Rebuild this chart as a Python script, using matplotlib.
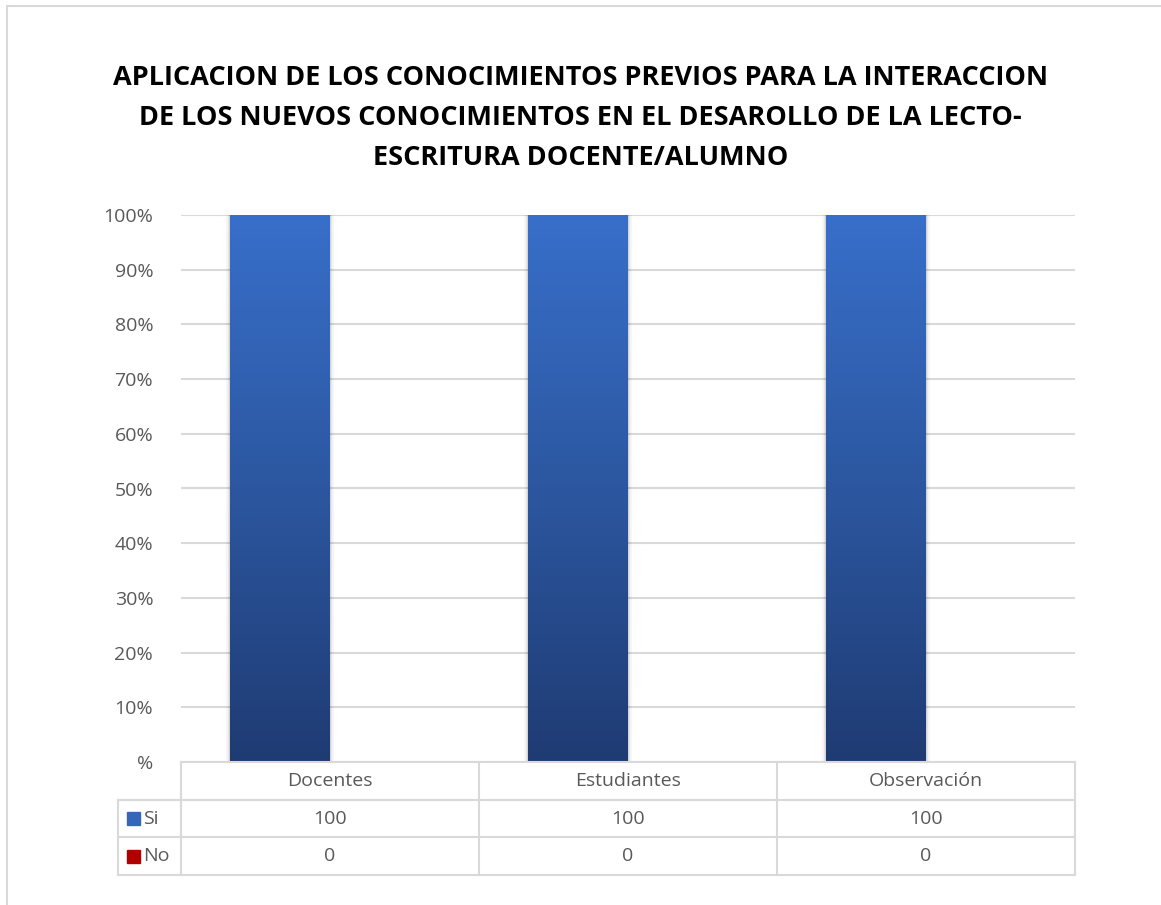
import matplotlib.pyplot as plt
import numpy as np
from matplotlib.colors import LinearSegmentedColormap
from matplotlib.patches import Rectangle

categories = ["Docentes", "Estudiantes", "Observación"]
si_values = [100, 100, 100]
no_values = [0, 0, 0]
series_names = ["Si", "No"]
title = ("APLICACION DE LOS CONOCIMIENTOS PREVIOS PARA LA INTERACCION\n"
         "DE LOS NUEVOS CONOCIMIENTOS EN EL DESAROLLO DE LA LECTO-\n"
         "ESCRITURA DOCENTE/ALUMNO")
ytick_labels = ["%", "10%", "20%", "30%", "40%", "50%", "60%", "70%", "80%", "90%", "100%"]


def main():
    plt.rcParams.update({"font.family": ["Open Sans", "DejaVu Sans"]})
    W, H = 1161, 905
    fig = plt.figure(figsize=(W / 100, H / 100), dpi=100)
    grey_text = "#595959"
    line_c = "#d9d9d9"

    # outer chart frame (only left/top visible)
    fig.patches.append(Rectangle((7 / W, -0.1), 1.2, 1 - 6 / H + 0.1, transform=fig.transFigure,
                                 fill=False, edgecolor="#d9d9d9", linewidth=1.5))

    fig.text(0.5, 1 - 118 / H, title, ha="center", va="center", fontsize=19.5,
             fontweight="bold", color="#000000", linespacing=1.7)

    left, right, top, bottom = 181, 1075, 215, 762
    ax = fig.add_axes([left / W, 1 - bottom / H, (right - left) / W, (bottom - top) / H])
    x = np.arange(len(categories))
    bw = 100 / 298
    bars_si = ax.bar(x - bw / 2, si_values, width=bw, color="#2f5ea8", zorder=3)
    ax.bar(x + bw / 2, no_values, width=bw, color="#c00000", zorder=3)

    grad = LinearSegmentedColormap.from_list("g", ["#1f3b73", "#2c57a0", "#386fca"])
    g = np.linspace(0, 1, 256).reshape(-1, 1)
    for p in bars_si:
        x0, y0 = p.get_x(), p.get_y()
        # soft shadow
        for k, a in [(0.012, 0.04), (0.007, 0.06), (0.003, 0.08)]:
            ax.add_patch(Rectangle((x0 - k, y0), p.get_width() + 2 * k, p.get_height(),
                                   color="#000000", alpha=a, zorder=2, linewidth=0))
        im = ax.imshow(g, cmap=grad, origin="lower", aspect="auto", zorder=4,
                       extent=(x0, x0 + p.get_width(), y0, y0 + p.get_height()))
        im.set_clip_path(p)

    ax.set_xlim(-0.5, len(categories) - 0.5)
    ax.set_ylim(0, 100)
    ax.set_yticks(np.arange(0, 101, 10))
    ax.set_yticklabels(ytick_labels)
    ax.tick_params(axis="y", length=0, pad=20, labelsize=14, labelcolor=grey_text)
    ax.set_xticks([])
    ax.grid(axis="y", color=line_c, linewidth=1.5, zorder=0)
    for s in ax.spines.values():
        s.set_visible(False)

    # data table below the plot
    tleft, tbottom = 118, 875
    tax = fig.add_axes([tleft / W, 1 - tbottom / H, (right - tleft) / W, (tbottom - bottom) / H])
    label_w = (left - tleft) / 298
    x_min = -0.5 - label_w
    tax.set_xlim(x_min, len(categories) - 0.5)
    tax.set_ylim(0, 3)
    tax.axis("off")
    lw = 1.5
    tax.plot([-0.5, 2.5], [3, 3], color=line_c, lw=lw, clip_on=False)
    for yv in [0, 1, 2]:
        tax.plot([x_min, 2.5], [yv, yv], color=line_c, lw=lw, clip_on=False)
    tax.plot([x_min, x_min], [0, 2], color=line_c, lw=lw, clip_on=False)
    for xv in np.arange(len(categories) + 1) - 0.5:
        tax.plot([xv, xv], [0, 3], color=line_c, lw=lw, clip_on=False)

    fs = 14
    for i, c in enumerate(categories):
        tax.text(i, 2.5, c, ha="center", va="center", fontsize=fs, color=grey_text)
        tax.text(i, 1.5, str(si_values[i]), ha="center", va="center", fontsize=fs, color=grey_text)
        tax.text(i, 0.5, str(no_values[i]), ha="center", va="center", fontsize=fs, color=grey_text)

    key_colors = ["#3566b8", "#b00000"]
    for r, (name, kc) in enumerate(zip(series_names, key_colors)):
        yc = 1.5 - r
        tax.add_patch(Rectangle((x_min + 0.03, yc - 0.17), 0.045, 0.34, color=kc, clip_on=False))
        tax.text(x_min + 0.085, yc, name, ha="left", va="center", fontsize=fs, color=grey_text)

    fig.savefig("out.png", dpi=100)


if __name__ == "__main__":
    main()
